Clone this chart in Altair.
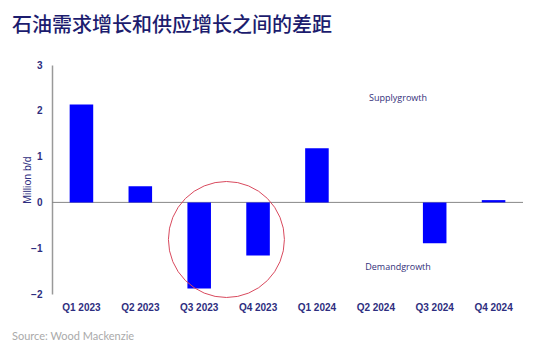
import altair as alt
import pandas as pd

quarters = ["Q1 2023", "Q2 2023", "Q3 2023", "Q4 2023",
            "Q1 2024", "Q2 2024", "Q3 2024", "Q4 2024"]
gap = [2.14, 0.35, -1.88, -1.16, 1.18, 0.0, -0.89, 0.05]

ann_labels = ["Supplygrowth", "Demandgrowth"]
ann_quarter = ["Q2 2024", "Q2 2024"]
ann_values = [2.27, -1.40]

circle_quarter = ["Q3 2023"]
circle_value = [-0.81]

df = pd.DataFrame({"quarter": quarters, "gap": gap})
ann = pd.DataFrame({"label": ann_labels, "quarter": ann_quarter, "v": ann_values})
circ = pd.DataFrame({"quarter": circle_quarter, "v": circle_value})
zero = pd.DataFrame({"v": [0]})

navy = "#2e2e80"

x_enc = alt.X("quarter:N", sort=quarters,
              scale=alt.Scale(domain=quarters, paddingInner=0.6, paddingOuter=0.3),
              axis=alt.Axis(title=None, domain=False, ticks=False, labelAngle=0,
                            labelFont="Liberation Sans", labelFontSize=10,
                            labelFontWeight="bold", labelColor=navy, labelPadding=8))
y_scale = alt.Scale(domain=[-2, 3], nice=False)

bars = alt.Chart(df).mark_bar(color="#0000ff").encode(
    x=x_enc,
    y=alt.Y("gap:Q", scale=y_scale,
            axis=alt.Axis(title="Million b/d", values=[-2, -1, 0, 1, 2, 3],
                          grid=False, ticks=False, domainColor="#999999",
                          domainWidth=1.5,
                          labelFont="Liberation Sans", labelFontSize=10,
                          labelFontWeight="bold", labelColor=navy, labelPadding=10,
                          titleFont="Liberation Sans", titleFontSize=10.5,
                          titleFontWeight="normal", titleColor=navy, titlePadding=-2)),
)

zero_line = alt.Chart(zero).mark_rule(color="#888888", strokeWidth=1).encode(
    y=alt.Y("v:Q", scale=y_scale)
)

texts = alt.Chart(ann).mark_text(font="Open Sans", fontSize=9, color="#33307a",
                                 align="center", baseline="middle").encode(
    x=alt.X("quarter:N", sort=quarters),
    xOffset=alt.value(34),
    y=alt.Y("v:Q", scale=y_scale),
    text="label:N",
)

circle = alt.Chart(circ).mark_point(shape="circle", size=13456, filled=False,
                                    color="#d94a5e", strokeWidth=1,
                                    opacity=1).encode(
    x=alt.X("quarter:N", sort=quarters),
    xOffset=alt.value(39),
    y=alt.Y("v:Q", scale=y_scale),
)

source = alt.Chart(zero).mark_text(text="Source: Wood Mackenzie", font="Lato",
                                   fontSize=11, color="#aaaaaa", align="left",
                                   baseline="middle").encode(
    x=alt.value(-40), y=alt.value(272)
)

chart = alt.layer(zero_line, bars, circle, texts, source).properties(
    width=471, height=229,
    padding={"left": 52, "top": 65, "right": 27, "bottom": 58},
    autosize=alt.AutoSizeParams(type="none"),
    title=alt.TitleParams("石油需求增长和供应增长之间的差距", anchor="start",
                          font="Noto Sans CJK SC", fontSize=20, fontWeight=500,
                          color="#1c1c6e", offset=24),
).configure(background="white").configure_view(stroke=None)

chart.save("out.html", embed_options={"renderer": "svg", "actions": False})
